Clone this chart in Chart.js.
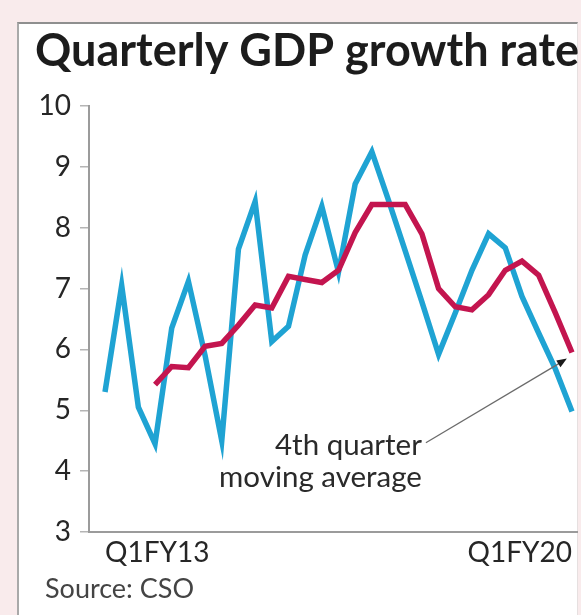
<!DOCTYPE html>
<html>
<head>
<meta charset="utf-8">
<script src="https://cdn.jsdelivr.net/npm/chart.js@4/dist/chart.umd.min.js"></script>
<style>
  html, body { margin: 0; padding: 0; background: #f9ebec; }
  #wrap { position: relative; width: 581px; height: 615px; overflow: hidden; }
  #card { position: absolute; left: 17px; top: 22px; width: 558px; height: 600px; background: #ffffff;
          border-top: 2px solid #8f8f8f; border-left: 2px solid #a9a9a9; border-right: 1px solid #e6e0e0; }
  canvas { position: absolute; left: 0; top: 0; }
</style>
</head>
<body>
<div id="wrap">
  <div id="card"></div>
  <canvas id="c" width="581" height="615"></canvas>
</div>
<script>
const titleText = 'Quarterly GDP growth rate';
const sourceText = 'Source: CSO';
const noteLines = ['4th quarter', 'moving average'];

const quarters = [
  'Q1FY13','Q2FY13','Q3FY13','Q4FY13',
  'Q1FY14','Q2FY14','Q3FY14','Q4FY14',
  'Q1FY15','Q2FY15','Q3FY15','Q4FY15',
  'Q1FY16','Q2FY16','Q3FY16','Q4FY16',
  'Q1FY17','Q2FY17','Q3FY17','Q4FY17',
  'Q1FY18','Q2FY18','Q3FY18','Q4FY18',
  'Q1FY19','Q2FY19','Q3FY19','Q4FY19',
  'Q1FY20'
];
const tickQuarters = ['Q1FY13', 'Q1FY20'];

const gdpGrowth = [
  5.3, 7.05, 5.05, 4.45,
  6.35, 7.12, 5.9, 4.5,
  7.65, 8.43, 6.13, 6.38,
  7.55, 8.35, 7.27, 8.72,
  9.25, 8.45, 7.62, 6.78,
  5.92, 6.6, 7.3, 7.9,
  7.67, 6.87, 6.27, 5.68,
  4.98
];
const movingAvg = [
  null, null, null, 5.42,
  5.72, 5.7, 6.05, 6.1,
  6.4, 6.73, 6.68, 7.2,
  7.15, 7.1, 7.3, 7.92,
  8.38, 8.38, 8.38, 7.9,
  7.0, 6.7, 6.65, 6.9,
  7.3, 7.45, 7.22, 6.6,
  5.95
];
const yTicks = [3, 4, 5, 6, 7, 8, 9, 10];

const toPoints = arr => arr.map((v, i) => ({ x: i, y: v }));

const FONT = 'Lato, "Open Sans", sans-serif';

const decor = {
  id: 'decor',
  afterDraw(chart) {
    const ctx = chart.ctx;
    const xs = chart.scales.x, ys = chart.scales.y;
    ctx.save();
    // title
    ctx.fillStyle = '#1c1c1c';
    ctx.font = 'bold 45px ' + FONT;
    ctx.textBaseline = 'alphabetic';
    ctx.textAlign = 'left';
    ctx.fillText(titleText, 35, 66);
    // source
    ctx.fillStyle = '#444';
    ctx.font = '27px ' + FONT;
    ctx.fillText(sourceText, 45, 598);
    // annotation text
    ctx.fillStyle = '#2a2a2a';
    ctx.font = '29.5px ' + FONT;
    ctx.textAlign = 'right';
    const tx = xs.getPixelForValue(19.0);
    const ty1 = ys.getPixelForValue(4.27);
    ctx.fillText(noteLines[0], tx, ty1);
    ctx.fillText(noteLines[1], tx, ty1 + 32);
    // arrow from text to last moving average point
    const last = movingAvg.length - 1;
    const ex = xs.getPixelForValue(last), ey = ys.getPixelForValue(movingAvg[last]);
    const sx = tx + 4, sy = ty1 - 12;
    const ang = Math.atan2(ey - sy, ex - sx);
    const tipX = ex - 6 * Math.cos(ang), tipY = ey - 6 * Math.sin(ang) + 3;
    ctx.strokeStyle = '#6b6b6b';
    ctx.lineWidth = 1.3;
    ctx.beginPath();
    ctx.moveTo(sx, sy);
    ctx.lineTo(tipX - 8 * Math.cos(ang), tipY - 8 * Math.sin(ang));
    ctx.stroke();
    ctx.fillStyle = '#1a1a1a';
    ctx.beginPath();
    ctx.moveTo(tipX, tipY);
    ctx.lineTo(tipX - 10 * Math.cos(ang) + 4 * Math.sin(ang), tipY - 10 * Math.sin(ang) - 4 * Math.cos(ang));
    ctx.lineTo(tipX - 10 * Math.cos(ang) - 4 * Math.sin(ang), tipY - 10 * Math.sin(ang) + 4 * Math.cos(ang));
    ctx.closePath();
    ctx.fill();
    ctx.restore();
  }
};

new Chart(document.getElementById('c'), {
  type: 'line',
  data: {
    datasets: [
      {
        label: 'GDP growth',
        data: toPoints(gdpGrowth),
        borderColor: '#1fa3d3',
        borderWidth: 5.5,
        pointRadius: 0,
        tension: 0,
        borderJoinStyle: 'miter',
        order: 2
      },
      {
        label: '4th quarter moving average',
        data: toPoints(movingAvg),
        borderColor: '#c3154f',
        borderWidth: 5.5,
        pointRadius: 0,
        tension: 0,
        borderJoinStyle: 'miter',
        spanGaps: false,
        order: 1
      }
    ]
  },
  options: {
    responsive: false,
    animation: false,
    devicePixelRatio: 1,
    layout: { padding: { left: 0, right: 4, top: 106, bottom: 47 } },
    plugins: { legend: { display: false }, tooltip: { enabled: false }, title: { display: false } },
    scales: {
      x: {
        type: 'linear',
        min: -0.96,
        max: 28.3,
        afterBuildTicks(scale) {
          scale.ticks = tickQuarters.map(q => ({ value: quarters.indexOf(q) }));
        },
        afterFit(scale) { scale.height = 36; },
        grid: { display: false, drawTicks: false },
        border: { display: true, color: '#9b9b9b', width: 2 },
        ticks: {
          align: 'inner',
          maxRotation: 0,
          autoSkip: false,
          padding: 4,
          color: '#262626',
          font: { family: FONT, size: 28 },
          callback: v => quarters[v] ?? ''
        }
      },
      y: {
        min: 3,
        max: 10,
        afterBuildTicks(scale) { scale.ticks = yTicks.map(v => ({ value: v })); },
        afterFit(scale) { scale.width = 89; },
        grid: { drawOnChartArea: false, drawTicks: true, tickLength: 9, color: '#b5b5b5', lineWidth: 1.5 },
        border: { display: true, color: '#9b9b9b', width: 2 },
        ticks: {
          padding: 9,
          color: '#262626',
          font: { family: FONT, size: 28 }
        }
      }
    }
  },
  plugins: [decor]
});
</script>
</body>
</html>
